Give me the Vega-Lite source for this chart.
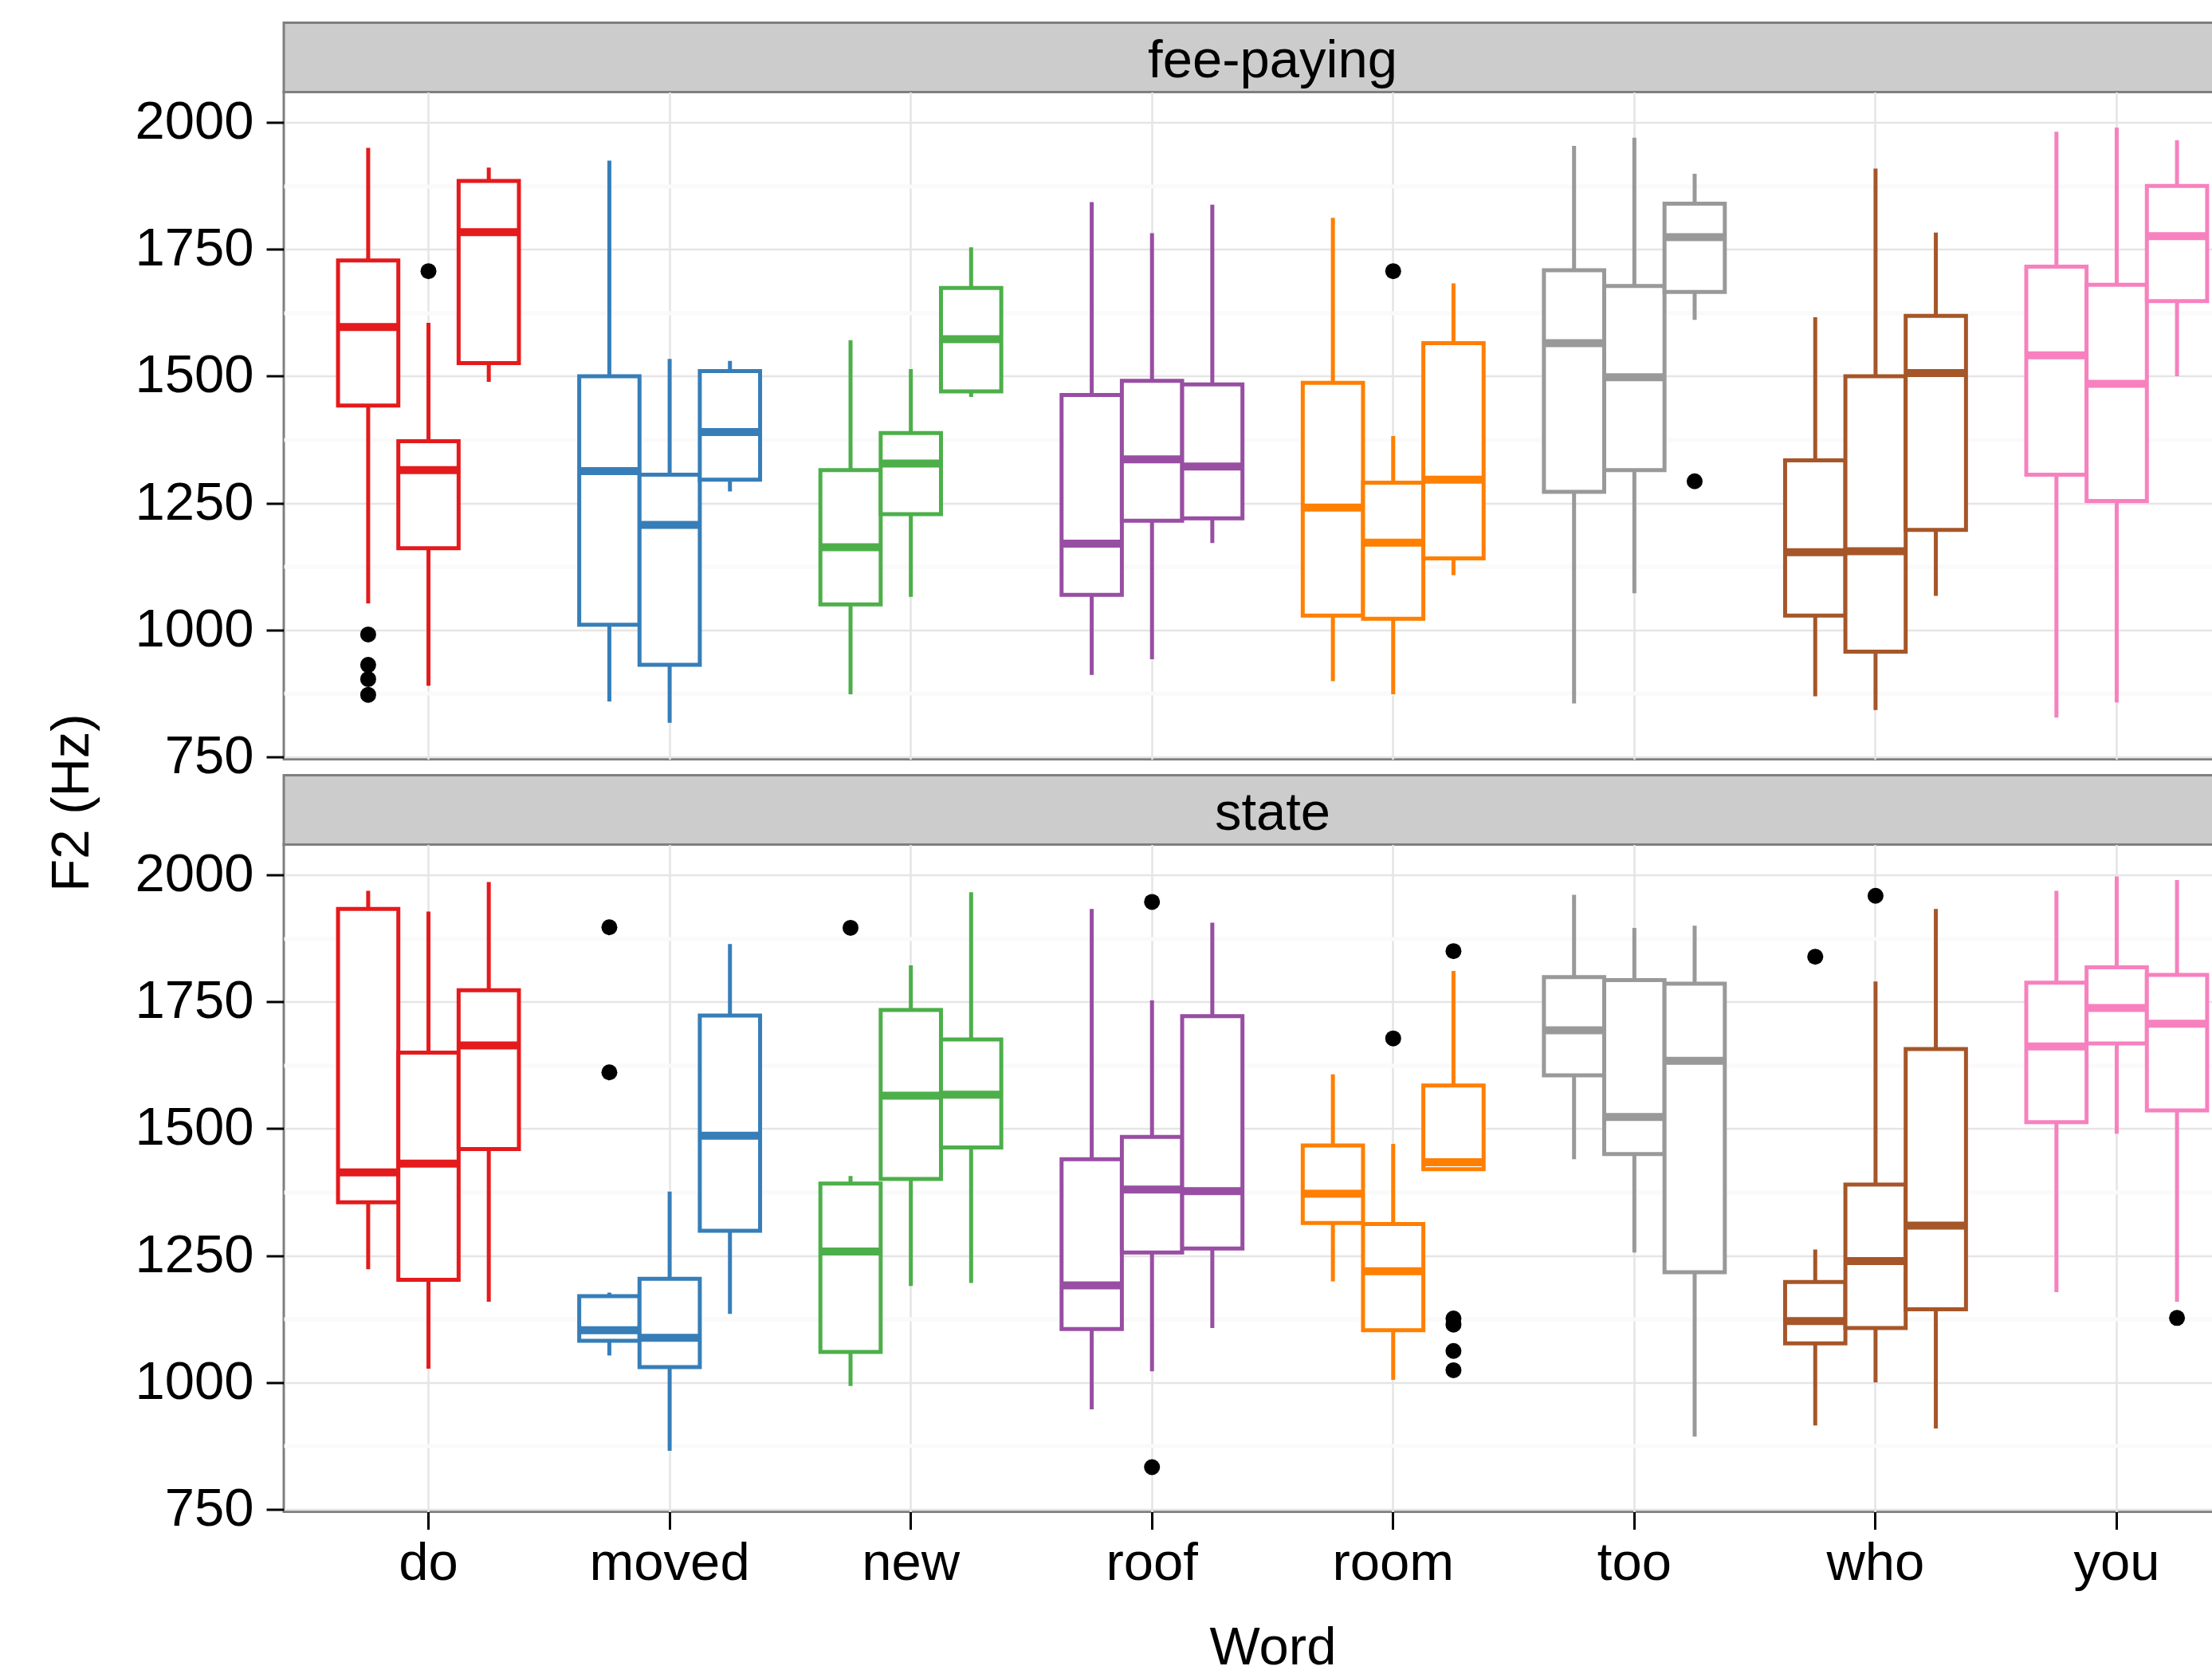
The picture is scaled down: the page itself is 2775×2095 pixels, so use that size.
{
  "$schema": "https://vega.github.io/schema/vega-lite/v6.json",
  "autosize": {"type": "pad"},
  "padding": {"left": 41, "top": 26.5, "right": 0, "bottom": 0},
  "background": "white",
  "datasets": {
    "boxes": [
      {"school":"fee-paying","word":"do","group":"1","lo":1052,"q1":1442,"med":1597,"q3":1728,"hi":1950},
      {"school":"fee-paying","word":"do","group":"2","lo":890,"q1":1161,"med":1315,"q3":1372,"hi":1605},
      {"school":"fee-paying","word":"do","group":"3","lo":1489,"q1":1526,"med":1784,"q3":1885,"hi":1911},
      {"school":"fee-paying","word":"moved","group":"1","lo":859,"q1":1010,"med":1313,"q3":1500,"hi":1925},
      {"school":"fee-paying","word":"moved","group":"2","lo":817,"q1":931,"med":1207,"q3":1306,"hi":1534},
      {"school":"fee-paying","word":"moved","group":"3","lo":1273,"q1":1296,"med":1390,"q3":1510,"hi":1530},
      {"school":"fee-paying","word":"new","group":"1","lo":873,"q1":1050,"med":1163,"q3":1315,"hi":1571},
      {"school":"fee-paying","word":"new","group":"2","lo":1065,"q1":1228,"med":1328,"q3":1388,"hi":1514},
      {"school":"fee-paying","word":"new","group":"3","lo":1459,"q1":1470,"med":1573,"q3":1674,"hi":1754},
      {"school":"fee-paying","word":"roof","group":"1","lo":911,"q1":1069,"med":1170,"q3":1463,"hi":1843},
      {"school":"fee-paying","word":"roof","group":"2","lo":942,"q1":1215,"med":1336,"q3":1491,"hi":1782},
      {"school":"fee-paying","word":"roof","group":"3","lo":1171,"q1":1220,"med":1322,"q3":1484,"hi":1838},
      {"school":"fee-paying","word":"room","group":"1","lo":899,"q1":1028,"med":1241,"q3":1487,"hi":1812},
      {"school":"fee-paying","word":"room","group":"2","lo":873,"q1":1022,"med":1172,"q3":1290,"hi":1382},
      {"school":"fee-paying","word":"room","group":"3","lo":1108,"q1":1141,"med":1296,"q3":1565,"hi":1683},
      {"school":"fee-paying","word":"too","group":"1","lo":855,"q1":1272,"med":1565,"q3":1709,"hi":1954},
      {"school":"fee-paying","word":"too","group":"2","lo":1072,"q1":1315,"med":1498,"q3":1678,"hi":1970},
      {"school":"fee-paying","word":"too","group":"3","lo":1611,"q1":1666,"med":1774,"q3":1840,"hi":1899},
      {"school":"fee-paying","word":"who","group":"1","lo":869,"q1":1028,"med":1153,"q3":1334,"hi":1616},
      {"school":"fee-paying","word":"who","group":"2","lo":842,"q1":957,"med":1155,"q3":1500,"hi":1909},
      {"school":"fee-paying","word":"who","group":"3","lo":1067,"q1":1197,"med":1506,"q3":1619,"hi":1783},
      {"school":"fee-paying","word":"you","group":"1","lo":827,"q1":1306,"med":1541,"q3":1716,"hi":1982},
      {"school":"fee-paying","word":"you","group":"2","lo":857,"q1":1254,"med":1485,"q3":1680,"hi":1990},
      {"school":"fee-paying","word":"you","group":"3","lo":1500,"q1":1648,"med":1776,"q3":1875,"hi":1965},
      {"school":"state","word":"do","group":"1","lo":1223,"q1":1355,"med":1414,"q3":1933,"hi":1969},
      {"school":"state","word":"do","group":"2","lo":1027,"q1":1202,"med":1431,"q3":1650,"hi":1928},
      {"school":"state","word":"do","group":"3","lo":1159,"q1":1460,"med":1664,"q3":1773,"hi":1986},
      {"school":"state","word":"moved","group":"1","lo":1053,"q1":1082,"med":1103,"q3":1170,"hi":1177},
      {"school":"state","word":"moved","group":"2","lo":865,"q1":1030,"med":1088,"q3":1204,"hi":1376},
      {"school":"state","word":"moved","group":"3","lo":1135,"q1":1299,"med":1486,"q3":1723,"hi":1864},
      {"school":"state","word":"new","group":"1","lo":993,"q1":1060,"med":1258,"q3":1392,"hi":1407},
      {"school":"state","word":"new","group":"2","lo":1190,"q1":1401,"med":1565,"q3":1734,"hi":1822},
      {"school":"state","word":"new","group":"3","lo":1196,"q1":1463,"med":1567,"q3":1676,"hi":1966},
      {"school":"state","word":"roof","group":"1","lo":947,"q1":1105,"med":1191,"q3":1440,"hi":1933},
      {"school":"state","word":"roof","group":"2","lo":1022,"q1":1256,"med":1380,"q3":1484,"hi":1753},
      {"school":"state","word":"roof","group":"3","lo":1107,"q1":1264,"med":1377,"q3":1722,"hi":1906},
      {"school":"state","word":"room","group":"1","lo":1199,"q1":1314,"med":1372,"q3":1467,"hi":1607},
      {"school":"state","word":"room","group":"2","lo":1005,"q1":1103,"med":1219,"q3":1312,"hi":1470},
      {"school":"state","word":"room","group":"3","lo":1420,"q1":1420,"med":1434,"q3":1585,"hi":1811},
      {"school":"state","word":"too","group":"1","lo":1440,"q1":1605,"med":1694,"q3":1799,"hi":1961},
      {"school":"state","word":"too","group":"2","lo":1256,"q1":1450,"med":1523,"q3":1793,"hi":1896},
      {"school":"state","word":"too","group":"3","lo":893,"q1":1217,"med":1634,"q3":1786,"hi":1900},
      {"school":"state","word":"who","group":"1","lo":915,"q1":1077,"med":1121,"q3":1198,"hi":1262},
      {"school":"state","word":"who","group":"2","lo":1000,"q1":1107,"med":1239,"q3":1390,"hi":1790},
      {"school":"state","word":"who","group":"3","lo":909,"q1":1144,"med":1309,"q3":1657,"hi":1933},
      {"school":"state","word":"you","group":"1","lo":1178,"q1":1513,"med":1662,"q3":1788,"hi":1969},
      {"school":"state","word":"you","group":"2","lo":1490,"q1":1668,"med":1738,"q3":1818,"hi":1997},
      {"school":"state","word":"you","group":"3","lo":1159,"q1":1536,"med":1707,"q3":1803,"hi":1990}
    ],
    "outliers": [
      {"school":"fee-paying","word":"do","group":"1","value":991},
      {"school":"fee-paying","word":"do","group":"1","value":931},
      {"school":"fee-paying","word":"do","group":"1","value":903},
      {"school":"fee-paying","word":"do","group":"1","value":872},
      {"school":"fee-paying","word":"do","group":"2","value":1707},
      {"school":"fee-paying","word":"room","group":"2","value":1707},
      {"school":"fee-paying","word":"too","group":"3","value":1293},
      {"school":"state","word":"moved","group":"1","value":1897},
      {"school":"state","word":"moved","group":"1","value":1611},
      {"school":"state","word":"new","group":"1","value":1896},
      {"school":"state","word":"roof","group":"2","value":1947},
      {"school":"state","word":"roof","group":"2","value":833},
      {"school":"state","word":"room","group":"2","value":1678},
      {"school":"state","word":"room","group":"3","value":1850},
      {"school":"state","word":"room","group":"3","value":1126},
      {"school":"state","word":"room","group":"3","value":1114},
      {"school":"state","word":"room","group":"3","value":1062},
      {"school":"state","word":"room","group":"3","value":1024},
      {"school":"state","word":"who","group":"1","value":1839},
      {"school":"state","word":"who","group":"2","value":1959},
      {"school":"state","word":"you","group":"3","value":1127}
    ]
  },
  "spacing": 26,
  "hconcat": [
    {
      "data": {"values": [{"label": "F2 (Hz)"}]},
      "width": 100,
      "height": 1957,
      "view": {"fill": "white", "stroke": null},
      "mark": {"type": "text", "fontSize": 67, "color": "black", "angle": 270, "baseline": "middle", "align": "center", "font": "Liberation Sans"},
      "encoding": {"text": {"field": "label", "type": "nominal"}}
    },
    {
      "spacing": 0,
      "bounds": "flush",
      "vconcat": [
        {
          "data": {"values": [{"school": "fee-paying"}]},
          "width": 2481,
          "height": 87,
          "view": {"fill": "#CCCCCC", "stroke": "#7F7F7F", "strokeWidth": 3},
          "mark": {"type": "text", "fontSize": 67, "color": "black", "baseline": "middle", "dy": 5, "font": "Liberation Sans"},
          "encoding": {"text": {"field": "school", "type": "nominal"}}
        },
        {
          "width": 2481,
          "height": 837,
          "resolve": {"axis": {"y": "independent"}},
          "layer": [
            {
              "data": {"name": "boxes"},
              "transform": [{"filter": "datum.school === 'fee-paying'"}],
              "mark": {"type": "rule", "strokeWidth": 5},
              "encoding": {
                "x": {"field": "word", "type": "nominal", "scale": {"domain": ["do","moved","new","roof","room","too","who","you"], "paddingInner": 0, "paddingOuter": 0.1}, "axis": {"title": null, "labels": false, "ticks": false, "domain": false, "grid": true}},
                "xOffset": {"field": "group", "type": "nominal", "scale": {"domain": ["1","2","3"], "paddingInner": 0, "paddingOuter": 0.5}},
                "y": {"field": "lo", "type": "quantitative", "scale": {"domain": [745, 2060], "nice": false, "zero": false}, "axis": {"values": [750,1000,1250,1500,1750,2000], "format": "d", "title": null, "grid": true, "labelPadding": 16}},
                "y2": {"field": "hi"},
                "color": {"field": "word", "type": "nominal", "scale": {"domain": ["do","moved","new","roof","room","too","who","you"], "range": ["#E41A1C","#377EB8","#4DAF4A","#984EA3","#FF7F00","#999999","#A65628","#F781BF"]}, "legend": null}
              }
            },
            {
              "data": {"name": "boxes"},
              "transform": [{"filter": "datum.school === 'fee-paying'"}],
              "mark": {"type": "bar", "fill": "white", "strokeWidth": 5},
              "encoding": {
                "x": {"field": "word", "type": "nominal", "scale": {"domain": ["do","moved","new","roof","room","too","who","you"], "paddingInner": 0, "paddingOuter": 0.1}, "axis": {"title": null, "labels": false, "ticks": false, "domain": false, "grid": true}},
                "xOffset": {"field": "group", "type": "nominal", "scale": {"domain": ["1","2","3"], "paddingInner": 0, "paddingOuter": 0.5}},
                "y": {"field": "q1", "type": "quantitative", "scale": {"domain": [745, 2060], "nice": false, "zero": false}, "axis": {"orient": "right", "values": [875,1125,1375,1625,1875], "labels": false, "ticks": false, "domain": false, "grid": true, "gridColor": "#FAFAFA", "gridWidth": 5, "title": null}},
                "y2": {"field": "q3"},
                "stroke": {"field": "word", "type": "nominal", "scale": {"domain": ["do","moved","new","roof","room","too","who","you"], "range": ["#E41A1C","#377EB8","#4DAF4A","#984EA3","#FF7F00","#999999","#A65628","#F781BF"]}, "legend": null}
              }
            },
            {
              "data": {"name": "boxes"},
              "transform": [{"filter": "datum.school === 'fee-paying'"}],
              "mark": {"type": "tick", "thickness": 10, "size": 76, "opacity": 1},
              "encoding": {
                "x": {"field": "word", "type": "nominal", "scale": {"domain": ["do","moved","new","roof","room","too","who","you"], "paddingInner": 0, "paddingOuter": 0.1}, "axis": {"title": null, "labels": false, "ticks": false, "domain": false, "grid": true}},
                "xOffset": {"field": "group", "type": "nominal", "scale": {"domain": ["1","2","3"], "paddingInner": 0, "paddingOuter": 0.5}},
                "y": {"field": "med", "type": "quantitative", "scale": {"domain": [745, 2060], "nice": false, "zero": false}, "axis": null},
                "color": {"field": "word", "type": "nominal", "scale": {"domain": ["do","moved","new","roof","room","too","who","you"], "range": ["#E41A1C","#377EB8","#4DAF4A","#984EA3","#FF7F00","#999999","#A65628","#F781BF"]}, "legend": null}
              }
            },
            {
              "data": {"name": "outliers"},
              "transform": [{"filter": "datum.school === 'fee-paying'"}],
              "mark": {"type": "point", "filled": true, "color": "black", "size": 400, "opacity": 1},
              "encoding": {
                "x": {"field": "word", "type": "nominal", "scale": {"domain": ["do","moved","new","roof","room","too","who","you"], "paddingInner": 0, "paddingOuter": 0.1}, "axis": {"title": null, "labels": false, "ticks": false, "domain": false, "grid": true}},
                "xOffset": {"field": "group", "type": "nominal", "scale": {"domain": ["1","2","3"], "paddingInner": 0, "paddingOuter": 0.5}},
                "y": {"field": "value", "type": "quantitative", "scale": {"domain": [745, 2060], "nice": false, "zero": false}, "axis": null}
              }
            }
          ]
        },
        {
          "data": {"values": []},
          "width": 2481,
          "height": 20,
          "view": {"fill": null, "stroke": null},
          "mark": "point"
        },
        {
          "data": {"values": [{"school": "state"}]},
          "width": 2481,
          "height": 87,
          "view": {"fill": "#CCCCCC", "stroke": "#7F7F7F", "strokeWidth": 3},
          "mark": {"type": "text", "fontSize": 67, "color": "black", "baseline": "middle", "dy": 5, "font": "Liberation Sans"},
          "encoding": {"text": {"field": "school", "type": "nominal"}}
        },
        {
          "width": 2481,
          "height": 837,
          "resolve": {"axis": {"y": "independent"}},
          "layer": [
            {
              "data": {"name": "boxes"},
              "transform": [{"filter": "datum.school === 'state'"}],
              "mark": {"type": "rule", "strokeWidth": 5},
              "encoding": {
                "x": {"field": "word", "type": "nominal", "scale": {"domain": ["do","moved","new","roof","room","too","who","you"], "paddingInner": 0, "paddingOuter": 0.1}, "axis": {"title": "Word", "labelAngle": 0, "labelLimit": 0, "grid": true, "domain": false, "labelPadding": 10, "titlePadding": 40}},
                "xOffset": {"field": "group", "type": "nominal", "scale": {"domain": ["1","2","3"], "paddingInner": 0, "paddingOuter": 0.5}},
                "y": {"field": "lo", "type": "quantitative", "scale": {"domain": [745, 2060], "nice": false, "zero": false}, "axis": {"values": [750,1000,1250,1500,1750,2000], "format": "d", "title": null, "grid": true, "labelPadding": 16}},
                "y2": {"field": "hi"},
                "color": {"field": "word", "type": "nominal", "scale": {"domain": ["do","moved","new","roof","room","too","who","you"], "range": ["#E41A1C","#377EB8","#4DAF4A","#984EA3","#FF7F00","#999999","#A65628","#F781BF"]}, "legend": null}
              }
            },
            {
              "data": {"name": "boxes"},
              "transform": [{"filter": "datum.school === 'state'"}],
              "mark": {"type": "bar", "fill": "white", "strokeWidth": 5},
              "encoding": {
                "x": {"field": "word", "type": "nominal", "scale": {"domain": ["do","moved","new","roof","room","too","who","you"], "paddingInner": 0, "paddingOuter": 0.1}, "axis": {"title": "Word", "labelAngle": 0, "labelLimit": 0, "grid": true, "domain": false, "labelPadding": 10, "titlePadding": 40}},
                "xOffset": {"field": "group", "type": "nominal", "scale": {"domain": ["1","2","3"], "paddingInner": 0, "paddingOuter": 0.5}},
                "y": {"field": "q1", "type": "quantitative", "scale": {"domain": [745, 2060], "nice": false, "zero": false}, "axis": {"orient": "right", "values": [875,1125,1375,1625,1875], "labels": false, "ticks": false, "domain": false, "grid": true, "gridColor": "#FAFAFA", "gridWidth": 5, "title": null}},
                "y2": {"field": "q3"},
                "stroke": {"field": "word", "type": "nominal", "scale": {"domain": ["do","moved","new","roof","room","too","who","you"], "range": ["#E41A1C","#377EB8","#4DAF4A","#984EA3","#FF7F00","#999999","#A65628","#F781BF"]}, "legend": null}
              }
            },
            {
              "data": {"name": "boxes"},
              "transform": [{"filter": "datum.school === 'state'"}],
              "mark": {"type": "tick", "thickness": 10, "size": 76, "opacity": 1},
              "encoding": {
                "x": {"field": "word", "type": "nominal", "scale": {"domain": ["do","moved","new","roof","room","too","who","you"], "paddingInner": 0, "paddingOuter": 0.1}, "axis": {"title": "Word", "labelAngle": 0, "labelLimit": 0, "grid": true, "domain": false, "labelPadding": 10, "titlePadding": 40}},
                "xOffset": {"field": "group", "type": "nominal", "scale": {"domain": ["1","2","3"], "paddingInner": 0, "paddingOuter": 0.5}},
                "y": {"field": "med", "type": "quantitative", "scale": {"domain": [745, 2060], "nice": false, "zero": false}, "axis": null},
                "color": {"field": "word", "type": "nominal", "scale": {"domain": ["do","moved","new","roof","room","too","who","you"], "range": ["#E41A1C","#377EB8","#4DAF4A","#984EA3","#FF7F00","#999999","#A65628","#F781BF"]}, "legend": null}
              }
            },
            {
              "data": {"name": "outliers"},
              "transform": [{"filter": "datum.school === 'state'"}],
              "mark": {"type": "point", "filled": true, "color": "black", "size": 400, "opacity": 1},
              "encoding": {
                "x": {"field": "word", "type": "nominal", "scale": {"domain": ["do","moved","new","roof","room","too","who","you"], "paddingInner": 0, "paddingOuter": 0.1}, "axis": {"title": "Word", "labelAngle": 0, "labelLimit": 0, "grid": true, "domain": false, "labelPadding": 10, "titlePadding": 40}},
                "xOffset": {"field": "group", "type": "nominal", "scale": {"domain": ["1","2","3"], "paddingInner": 0, "paddingOuter": 0.5}},
                "y": {"field": "value", "type": "quantitative", "scale": {"domain": [745, 2060], "nice": false, "zero": false}, "axis": null}
              }
            }
          ]
        }
      ]
    }
  ],
  "config": {
    "font": "Liberation Sans",
    "view": {"stroke": "#7F7F7F", "strokeWidth": 3},
    "axis": {
      "labelFont": "Liberation Sans",
      "titleFont": "Liberation Sans",
      "labelFontSize": 67,
      "labelColor": "black",
      "titleFontSize": 67,
      "titleFontWeight": "normal",
      "titleColor": "black",
      "tickColor": "black",
      "tickSize": 22,
      "tickWidth": 3,
      "domain": false,
      "gridColor": "#E5E5E5",
      "gridWidth": 2.5
    }
  }
}
